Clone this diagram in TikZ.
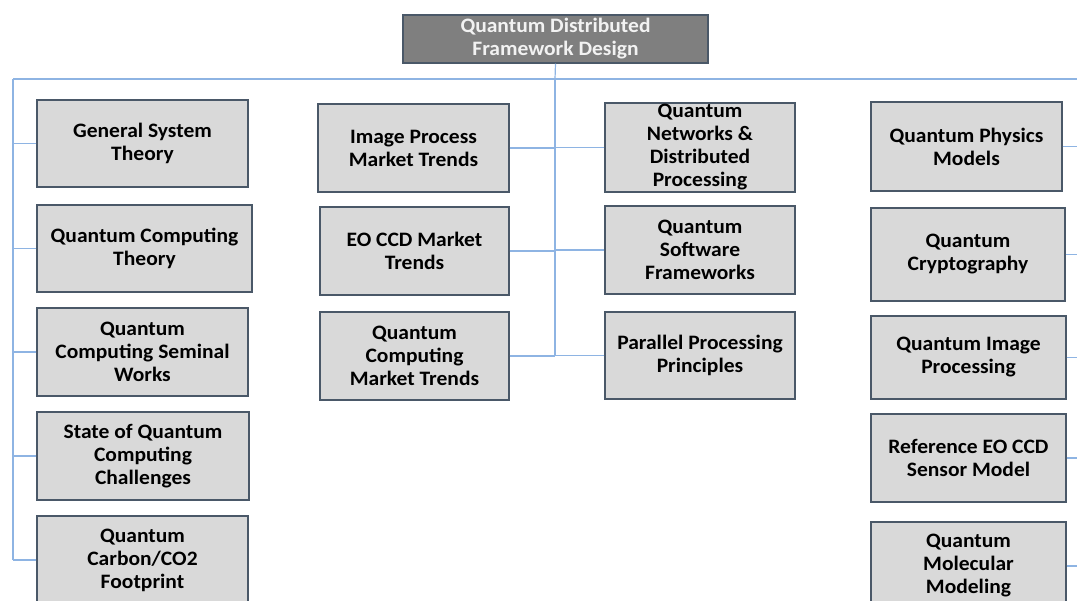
\documentclass[tikz,border=0pt]{standalone}
\usepackage{fontspec}
\setmainfont{Carlito}[FakeStretch=1.05]
\definecolor{boxfill}{HTML}{D9D9D9}
\definecolor{boxline}{HTML}{4A5868}
\definecolor{rootfill}{HTML}{7F7F7F}
\definecolor{roottext}{HTML}{F2F2F2}
\definecolor{wire}{HTML}{8EB4E3}
\begin{document}
\begin{tikzpicture}[x=1pt,y=-1pt,
  topic/.style={draw=boxline, line width=1.3pt, fill=boxfill, inner sep=0pt,
    align=center, font=\bfseries\fontsize{20.5}{23}\selectfont, text=black},
  rootbox/.style={draw=boxline, line width=1.3pt, fill=rootfill, inner sep=0pt,
    align=center, font=\bfseries\fontsize{20.5}{23}\selectfont, text=roottext},
  wireline/.style={draw=wire, line width=1.2pt}]
\useasboundingbox (0,0) rectangle (1077,601);
% root
\node[rootbox, minimum width=305pt, minimum height=48pt] (root) at (555.5,39) {Quantum Distributed\\Framework Design};
% left column
\node[topic, minimum width=211pt, minimum height=87pt] (L1) at (142.5,143.5) {General System\\Theory};
\node[topic, minimum width=215pt, minimum height=87pt] (L2) at (144.5,248.5) {Quantum Computing\\Theory};
\node[topic, minimum width=211pt, minimum height=88pt] (L3) at (142.5,352) {Quantum\\Computing Seminal\\Works};
\node[topic, minimum width=212pt, minimum height=88pt] (L4) at (143,456) {State of Quantum\\Computing\\Challenges};
\node[topic, minimum width=211pt, minimum height=88pt] (L5) at (142.5,560) {Quantum\\Carbon/CO2\\Footprint};
% second column
\node[topic, minimum width=191pt, minimum height=88pt] (M1) at (413.5,148) {Image Process\\Market Trends};
\node[topic, minimum width=189pt, minimum height=88pt] (M2) at (414.5,251) {EO CCD Market\\Trends};
\node[topic, minimum width=189pt, minimum height=88pt] (M3) at (414.5,356) {Quantum\\Computing\\Market Trends};
% third column
\node[topic, minimum width=190pt, minimum height=89pt] (N1) at (700,147.5) {Quantum\\Networks \&\\Distributed\\Processing};
\node[topic, minimum width=190pt, minimum height=88pt] (N2) at (700,250) {Quantum\\Software\\Frameworks};
\node[topic, minimum width=190pt, minimum height=87pt] (N3) at (700,355.5) {Parallel Processing\\Principles};
% fourth column
\node[topic, minimum width=191pt, minimum height=89pt] (R1) at (966.5,146.5) {Quantum Physics\\Models};
\node[topic, minimum width=194pt, minimum height=93pt] (R2) at (968,254.5) {Quantum\\Cryptography};
\node[topic, minimum width=195pt, minimum height=83pt] (R3) at (968.5,357.5) {Quantum Image\\Processing};
\node[topic, minimum width=195pt, minimum height=88pt] (R4) at (968.5,458) {Reference EO CCD\\Sensor Model};
\node[topic, minimum width=195pt, minimum height=88pt] (R5) at (968.5,566) {Quantum\\Molecular\\Modeling};
% wiring points
\coordinate (busL) at (13,79);
\coordinate (hub) at (555,79);
\coordinate (busR) at (1077,79);
\coordinate (trunkL) at (13,560);
\coordinate (trunkM) at (555,356);
\draw[wireline] (root.south) -- (hub);
\draw[wireline] (busL) -- (busR);
\draw[wireline] (busL) -- (trunkL);
\draw[wireline] (hub) -- (trunkM);
\foreach \n in {L1,L2,L3,L4,L5} \draw[wireline] (\n.west) -- (\n.west -| busL);
\foreach \n in {M1,M2,M3} \draw[wireline] (\n.east) -- (\n.east -| hub);
\foreach \n in {N1,N2,N3} \draw[wireline] (\n.west) -- (\n.west -| hub);
\foreach \n in {R1,R2,R3,R4,R5} \draw[wireline] (\n.east) -- (\n.east -| busR);
\end{tikzpicture}
\end{document}
